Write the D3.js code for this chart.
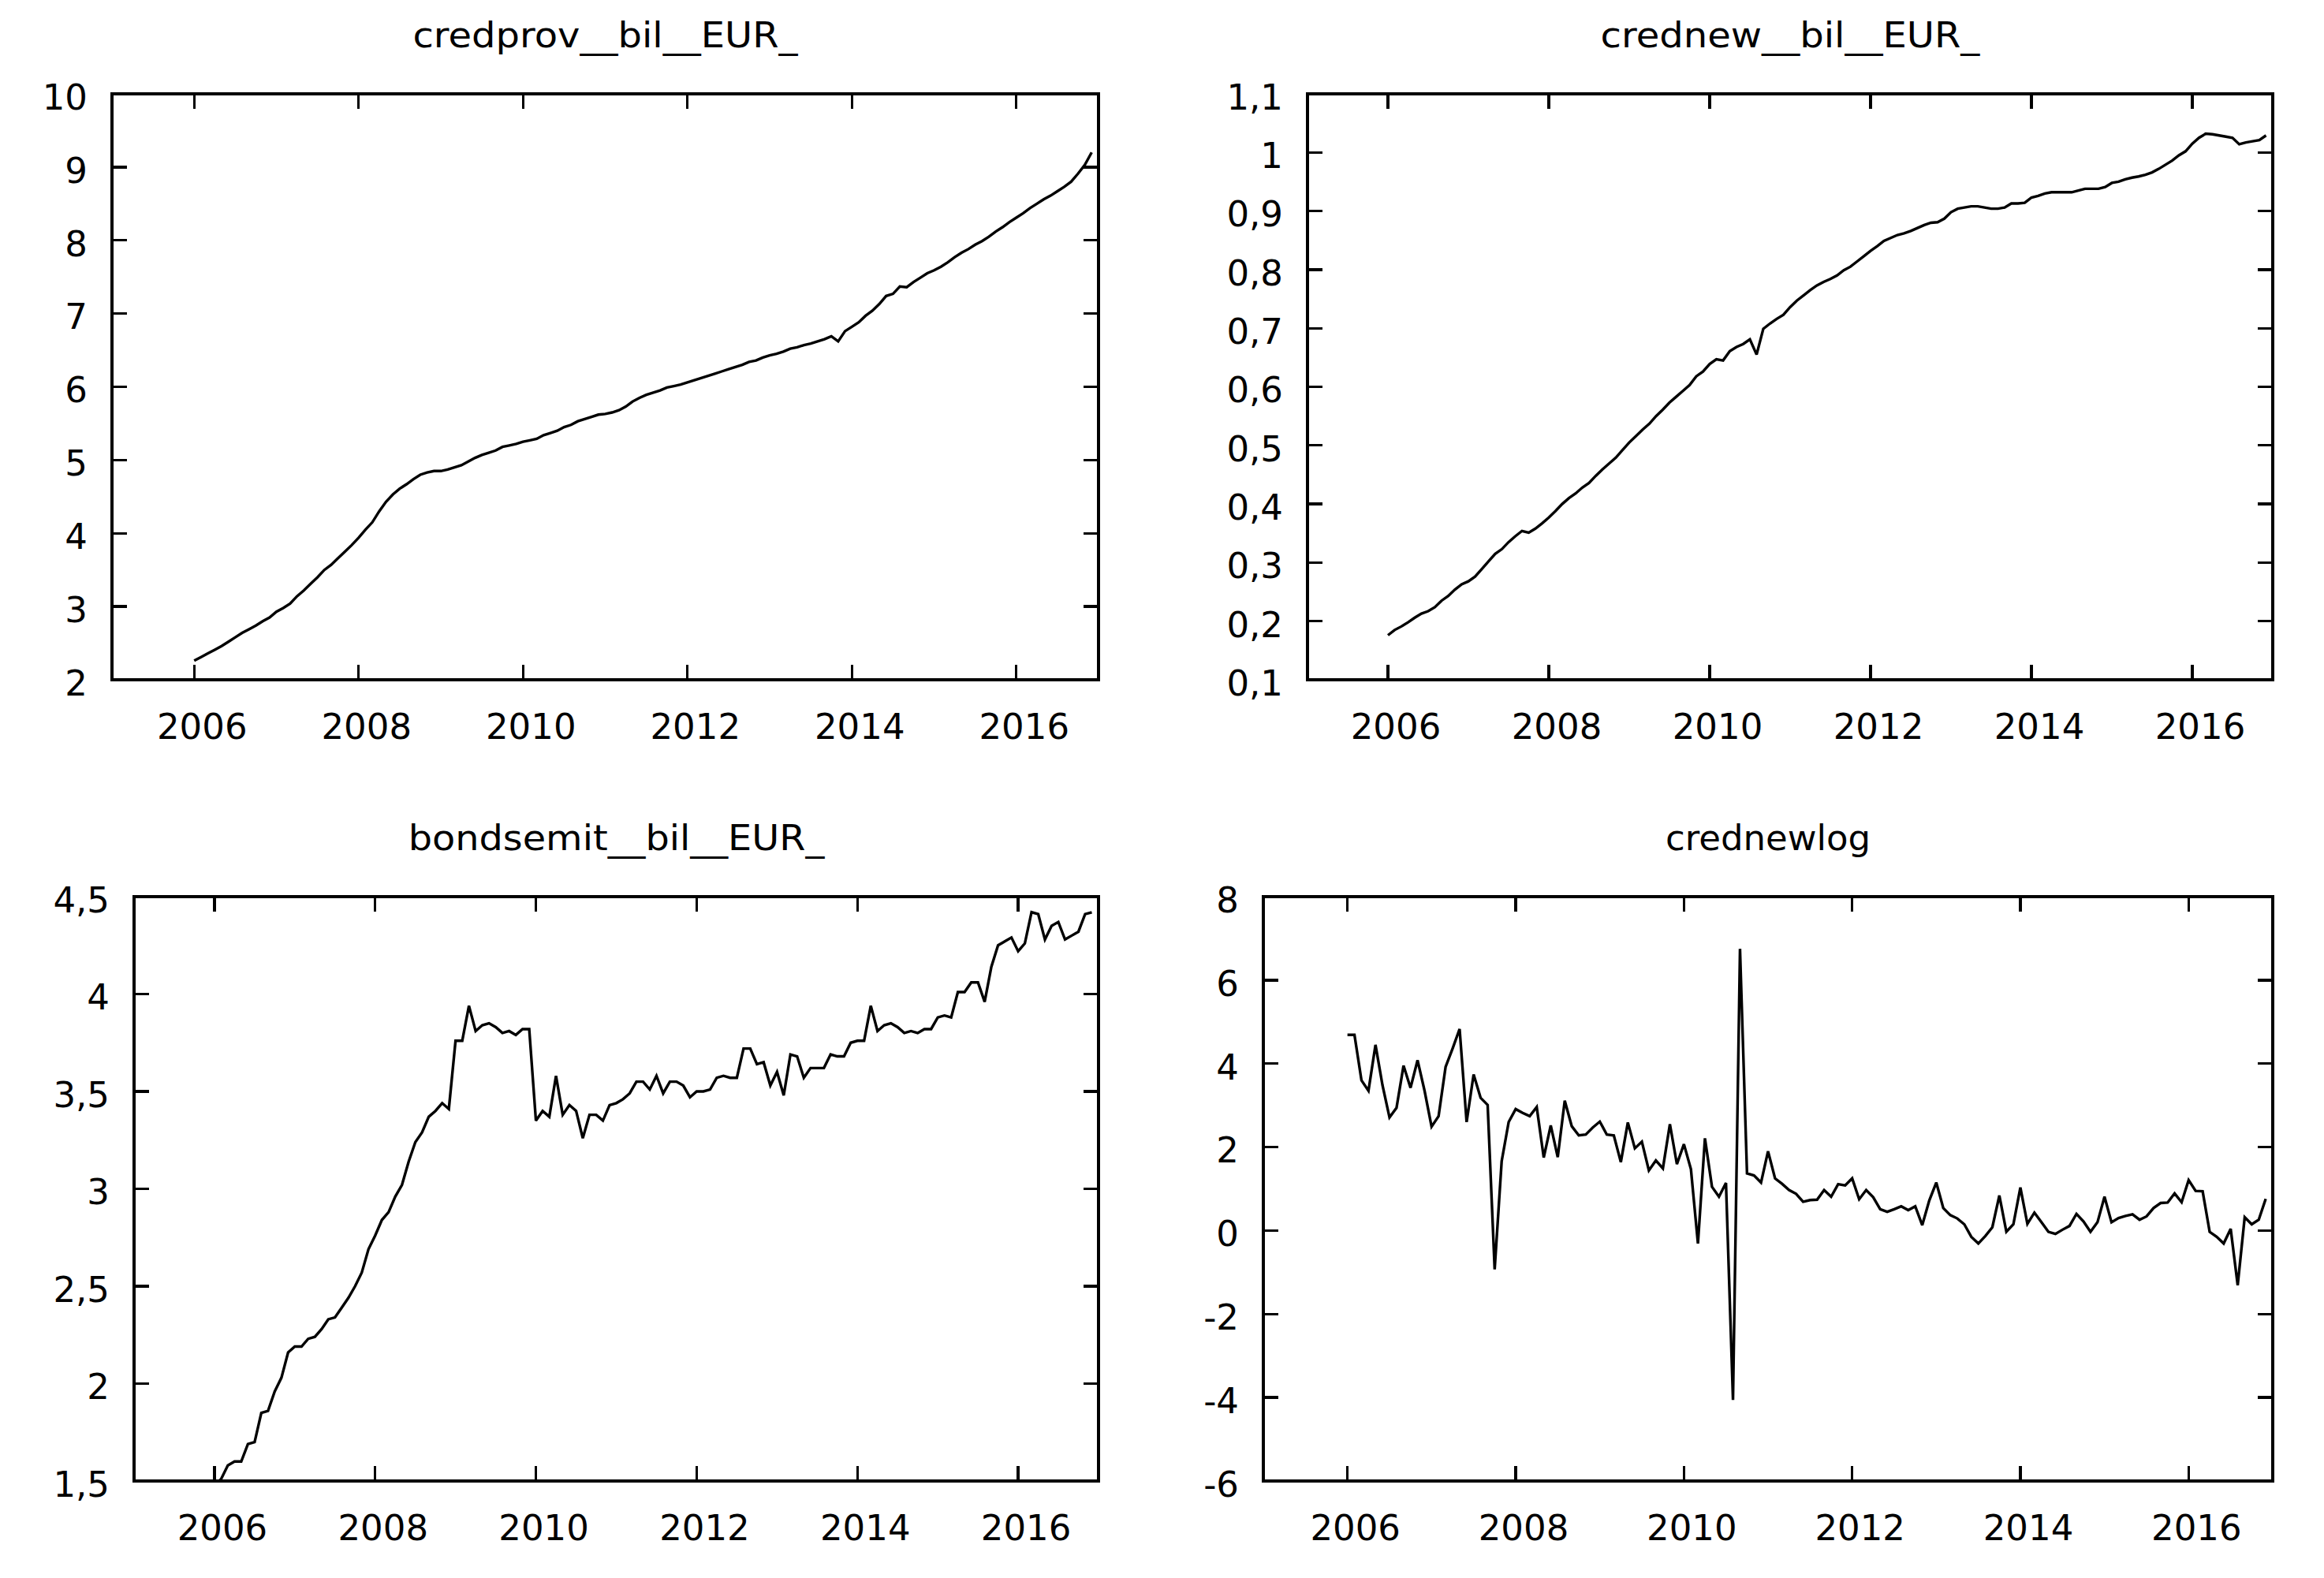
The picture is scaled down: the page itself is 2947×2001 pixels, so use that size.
<!DOCTYPE html>
<html>
<head>
<meta charset="utf-8">
<script src="https://cdn.jsdelivr.net/npm/d3@7"></script>
<style>
  html, body { margin: 0; padding: 0; background: #ffffff; }
  svg { display: block; }
  text { font-family: "DejaVu Sans", Verdana, sans-serif; fill: #000; }
</style>
</head>
<body>
<script>
// ---------------- data (monthly, 2006:01 - 2016:12) ----------------
const startYear = 2006;

const credprov = [
  2.26, 2.31, 2.36, 2.41, 2.46, 2.52, 2.58, 2.64, 2.69, 2.74, 2.80, 2.85,
  2.93, 2.98, 3.04, 3.14, 3.22, 3.31, 3.40, 3.50, 3.57, 3.66, 3.75, 3.84,
  3.94, 4.05, 4.15, 4.30, 4.43, 4.53, 4.61, 4.67, 4.74, 4.80, 4.83, 4.85,
  4.85, 4.87, 4.90, 4.93, 4.98, 5.03, 5.07, 5.10, 5.13, 5.18, 5.20, 5.22,
  5.25, 5.27, 5.29, 5.34, 5.37, 5.40, 5.45, 5.48, 5.53, 5.56, 5.59, 5.62,
  5.63, 5.65, 5.68, 5.73, 5.80, 5.85, 5.89, 5.92, 5.95, 5.99, 6.01, 6.03,
  6.06, 6.09, 6.12, 6.15, 6.18, 6.21, 6.24, 6.27, 6.30, 6.34, 6.36, 6.40,
  6.43, 6.45, 6.48, 6.52, 6.54, 6.57, 6.59, 6.62, 6.65, 6.69, 6.62, 6.76,
  6.82, 6.88, 6.97, 7.04, 7.13, 7.24, 7.27, 7.37, 7.36, 7.43, 7.49, 7.55,
  7.59, 7.64, 7.70, 7.77, 7.83, 7.88, 7.94, 7.99, 8.05, 8.12, 8.18, 8.25,
  8.31, 8.37, 8.44, 8.50, 8.56, 8.61, 8.67, 8.73, 8.80, 8.91, 9.03, 9.20
];

const crednew = [
  0.176, 0.185, 0.191, 0.198, 0.206, 0.213, 0.217, 0.224, 0.235, 0.243, 0.254, 0.263,
  0.268, 0.276, 0.289, 0.302, 0.315, 0.323, 0.335, 0.345, 0.354, 0.351, 0.358, 0.367,
  0.377, 0.388, 0.400, 0.410, 0.418, 0.428, 0.436, 0.448, 0.459, 0.469, 0.479, 0.492,
  0.505, 0.516, 0.527, 0.537, 0.550, 0.561, 0.573, 0.583, 0.593, 0.603, 0.618, 0.626,
  0.639, 0.647, 0.645, 0.661, 0.668, 0.673, 0.681, 0.655, 0.699, 0.708, 0.716, 0.723,
  0.736, 0.747, 0.756, 0.765, 0.773, 0.779, 0.784, 0.790, 0.799, 0.805, 0.814, 0.823,
  0.832, 0.840, 0.849, 0.854, 0.859, 0.862, 0.866, 0.871, 0.876, 0.880, 0.881, 0.887,
  0.898, 0.904, 0.906, 0.908, 0.908, 0.906, 0.904, 0.904, 0.906, 0.913, 0.913, 0.914,
  0.923, 0.926, 0.930, 0.932, 0.932, 0.932, 0.932, 0.935, 0.938, 0.938, 0.938, 0.941,
  0.948, 0.950, 0.954, 0.957, 0.959, 0.962, 0.966, 0.972, 0.979, 0.986, 0.995, 1.002,
  1.015, 1.025, 1.032, 1.031, 1.029, 1.027, 1.025, 1.014, 1.017, 1.019, 1.021, 1.029
];

const bondsemit = [
  1.48, 1.51, 1.58, 1.60, 1.60, 1.69, 1.70, 1.85, 1.86, 1.96, 2.03, 2.16,
  2.19, 2.19, 2.23, 2.24, 2.28, 2.33, 2.34, 2.39, 2.44, 2.50, 2.57, 2.69,
  2.76, 2.84, 2.88, 2.96, 3.02, 3.14, 3.24, 3.29, 3.37, 3.40, 3.44, 3.41,
  3.76, 3.76, 3.94, 3.81, 3.84, 3.85, 3.83, 3.80, 3.81, 3.79, 3.82, 3.82,
  3.35, 3.40, 3.37, 3.58, 3.38, 3.43, 3.40, 3.26, 3.38, 3.38, 3.35, 3.43,
  3.44, 3.46, 3.49, 3.55, 3.55, 3.51, 3.58, 3.49, 3.55, 3.55, 3.53, 3.47,
  3.50, 3.50, 3.51, 3.57, 3.58, 3.57, 3.57, 3.72, 3.72, 3.64, 3.65, 3.53,
  3.60, 3.48, 3.69, 3.68, 3.57, 3.62, 3.62, 3.62, 3.69, 3.68, 3.68, 3.75,
  3.76, 3.76, 3.94, 3.81, 3.84, 3.85, 3.83, 3.80, 3.81, 3.80, 3.82, 3.82,
  3.88, 3.89, 3.88, 4.01, 4.01, 4.06, 4.06, 3.96, 4.14, 4.25, 4.27, 4.29,
  4.22, 4.26, 4.42, 4.41, 4.28, 4.35, 4.37, 4.28, 4.30, 4.32, 4.41, 4.42
];

const crednewlog = [
  4.69, 4.69, 3.60, 3.35, 4.45, 3.48, 2.71, 2.94, 3.95, 3.42, 4.08, 3.35,
  2.49, 2.74, 3.92, 4.36, 4.83, 2.60, 3.74, 3.18, 3.01, -0.93, 1.66, 2.60,
  2.91, 2.82, 2.74, 2.96, 1.75, 2.52, 1.76, 3.11, 2.50, 2.28, 2.30, 2.47,
  2.61, 2.30, 2.28, 1.64, 2.59, 1.97, 2.13, 1.44, 1.68, 1.49, 2.55, 1.59,
  2.07, 1.47, -0.31, 2.21, 1.05, 0.81, 1.14, -4.06, 6.75, 1.37, 1.32, 1.15,
  1.90, 1.25, 1.12, 0.97, 0.88, 0.69, 0.73, 0.74, 0.97, 0.81, 1.11, 1.08,
  1.25, 0.75, 0.97, 0.80, 0.51, 0.45, 0.51, 0.58, 0.49, 0.58, 0.13, 0.72,
  1.15, 0.54, 0.37, 0.29, 0.15, -0.15, -0.31, -0.13, 0.08, 0.84, -0.03, 0.15,
  1.03, 0.16, 0.43, 0.20, -0.03, -0.08, 0.02, 0.11, 0.40, 0.22, -0.03, 0.20,
  0.81, 0.20, 0.30, 0.35, 0.39, 0.26, 0.34, 0.54, 0.66, 0.67, 0.89, 0.68,
  1.21, 0.95, 0.94, -0.03, -0.15, -0.31, 0.04, -1.31, 0.32, 0.15, 0.26, 0.76
];

const titles = ["credprov__bil__EUR_", "crednew__bil__EUR_", "bondsemit__bil__EUR_", "crednewlog"];
const xTicks = [2006, 2008, 2010, 2012, 2014, 2016];
const xDomain = [2005, 2017];
const yTicksCredprov = [2, 3, 4, 5, 6, 7, 8, 9, 10];
const yTicksCrednew = [0.1, 0.2, 0.3, 0.4, 0.5, 0.6, 0.7, 0.8, 0.9, 1.0, 1.1];
const yTicksBonds = [1.5, 2, 2.5, 3, 3.5, 4, 4.5];
const yTicksLog = [-6, -4, -2, 0, 2, 4, 6, 8];

// ---------------- layout / style ----------------
const W = 2947, H = 2001;
const FONT = 45;
const TICK = 19;
const FRAME_W = 3.3;
const LINE_W = 3.4;

const panels = [
  { title: titles[0], values: credprov,   yTicks: yTicksCredprov, box: { l: 142,  r: 1393, t: 119,  b: 862 } },
  { title: titles[1], values: crednew,    yTicks: yTicksCrednew,  box: { l: 1658, r: 2882, t: 119,  b: 862 } },
  { title: titles[2], values: bondsemit,  yTicks: yTicksBonds,    box: { l: 170,  r: 1393, t: 1137, b: 1878 } },
  { title: titles[3], values: crednewlog, yTicks: yTicksLog,      box: { l: 1602, r: 2882, t: 1137, b: 1878 } }
];

const fmt = v => String(+v.toFixed(6)).replace(".", ",");

const svg = d3.select("body").append("svg")
  .attr("width", W).attr("height", H)
  .attr("viewBox", `0 0 ${W} ${H}`);

svg.append("rect").attr("width", W).attr("height", H).attr("fill", "#fff");

panels.forEach((p, k) => {
  const b = p.box;
  const x = d3.scaleLinear().domain(xDomain).range([b.l, b.r]);
  const y = d3.scaleLinear().domain(d3.extent(p.yTicks)).range([b.b, b.t]);
  const g = svg.append("g").attr("class", "panel");

  // clip
  const clipId = "clip" + k;
  g.append("clipPath").attr("id", clipId)
    .append("rect").attr("x", b.l).attr("y", b.t)
    .attr("width", b.r - b.l).attr("height", b.b - b.t);

  // data line
  const pts = p.values.map((v, i) => [startYear + i / 12, v]);
  const line = d3.line().x(d => x(d[0])).y(d => y(d[1]));
  g.append("path")
    .datum(pts)
    .attr("clip-path", `url(#${clipId})`)
    .attr("d", line)
    .attr("fill", "none")
    .attr("stroke", "#000")
    .attr("stroke-width", LINE_W)
    .attr("stroke-linejoin", "miter")
    .attr("stroke-miterlimit", 3);

  // ticks (inward, mirrored)
  const ticks = g.append("g").attr("stroke", "#000").attr("stroke-width", FRAME_W)
    .attr("shape-rendering", "crispEdges");
  xTicks.forEach(t => {
    ticks.append("line").attr("x1", x(t)).attr("x2", x(t)).attr("y1", b.b).attr("y2", b.b - TICK);
    ticks.append("line").attr("x1", x(t)).attr("x2", x(t)).attr("y1", b.t).attr("y2", b.t + TICK);
  });
  p.yTicks.forEach(t => {
    ticks.append("line").attr("x1", b.l).attr("x2", b.l + TICK).attr("y1", y(t)).attr("y2", y(t));
    ticks.append("line").attr("x1", b.r).attr("x2", b.r - TICK).attr("y1", y(t)).attr("y2", y(t));
  });

  // frame
  g.append("rect")
    .attr("x", b.l).attr("y", b.t)
    .attr("width", b.r - b.l).attr("height", b.b - b.t)
    .attr("fill", "none").attr("stroke", "#000").attr("stroke-width", FRAME_W)
    .attr("shape-rendering", "crispEdges");

  // x tick labels (slightly right of the tick, as in the reference)
  g.append("g").selectAll("text").data(xTicks).join("text")
    .attr("x", d => x(d) + 10).attr("y", b.b + 75)
    .attr("text-anchor", "middle")
    .attr("font-size", FONT)
    .text(d => String(d));

  // y tick labels
  g.append("g").selectAll("text").data(p.yTicks).join("text")
    .attr("x", b.l - 31).attr("y", d => y(d))
    .attr("dy", "0.44em")
    .attr("text-anchor", "end")
    .attr("font-size", FONT)
    .text(d => fmt(d));

  // title; the reference font has wider underscores, so stretch the text
  // by the missing underscore width (keeps underscores continuous)
  const tt = g.append("text")
    .attr("x", (b.l + b.r) / 2).attr("y", b.t - 59)
    .attr("text-anchor", "middle")
    .attr("font-size", FONT)
    .text(p.title);
  const nUnd = (p.title.match(/_/g) || []).length;
  if (nUnd > 0) {
    const natural = tt.node().getComputedTextLength();
    tt.attr("textLength", natural + nUnd * 0.136 * FONT)
      .attr("lengthAdjust", "spacingAndGlyphs");
  }
});
</script>
</body>
</html>
